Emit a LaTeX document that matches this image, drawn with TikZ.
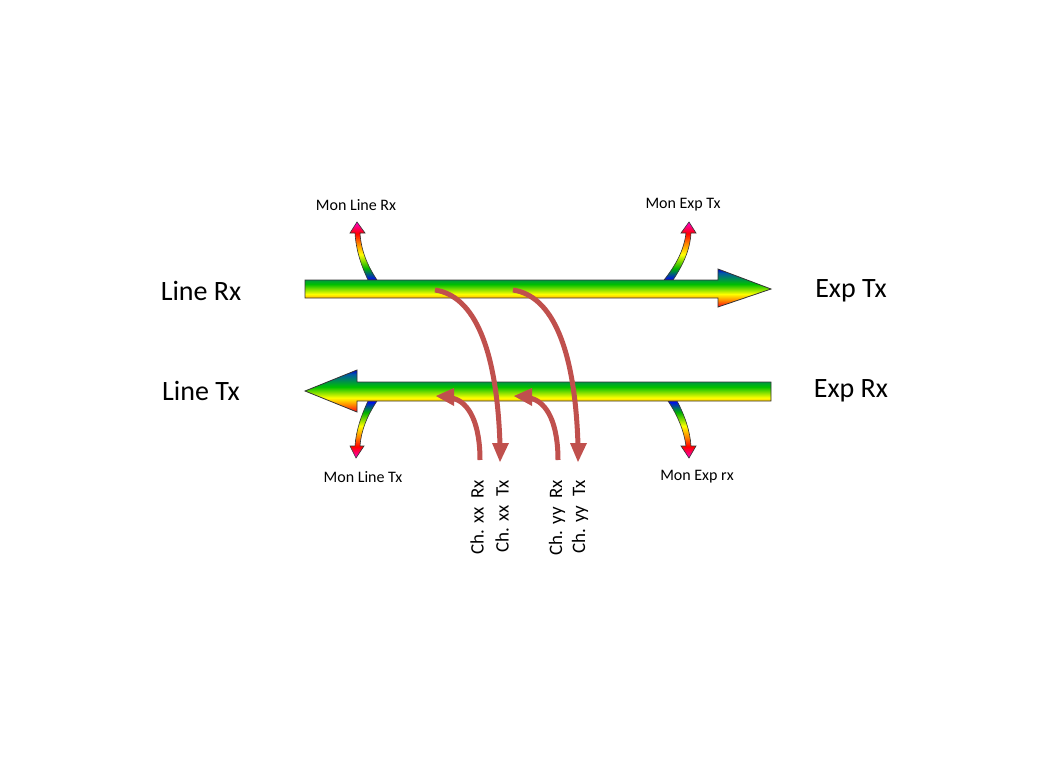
\documentclass[tikz,border=0pt]{standalone}
\usepackage{fontspec}
\setmainfont{Carlito}
\pgfdeclareverticalshading{rainbow}{100bp}{color(0bp)=(red); color(25bp)=(red!90!magenta); color(33bp)=(orange); color(42bp)=(yellow); color(55bp)=(green!75!black); color(70bp)=(teal!70!blue); color(75bp)=(blue!80!black); color(100bp)=(blue)}
\pgfdeclareverticalshading{rainbowsm}{100bp}{color(0bp)=(blue); color(25bp)=(blue); color(35bp)=(green!70!black); color(47bp)=(yellow); color(57bp)=(orange); color(65bp)=(red); color(75bp)=(magenta!80!red); color(100bp)=(magenta)}
\definecolor{redarr}{RGB}{192,80,77}
\tikzset{
 big/.style={shading=rainbow,draw=black!80,line width=0.8pt},
 sm/.style={shading=rainbowsm,draw=black!80,line width=0.6pt},
 redline/.style={draw=redarr,line width=5pt},
 lbl/.style={font=\fontsize{28}{30}\selectfont},
 slbl/.style={font=\fontsize{16}{18}\selectfont},
 clbl/.style={font=\fontsize{19}{21}\selectfont,rotate=90,anchor=east,inner sep=0pt}
}
\begin{document}
\begin{tikzpicture}[x=1pt,y=-1pt]
\useasboundingbox (0,0) rectangle (1053,779);
% small arrows
\path[sm] (368,280) .. controls (361,265) and (356,250) .. (355,233) -- (350,233) -- (357,222) -- (365,233) -- (360,233) .. controls (361,250) and (367,265) .. (377,280) -- cycle;
\path[sm] (664,280) .. controls (676,265) and (684,250) .. (686,233) -- (681,233) -- (689,222) -- (696,233) -- (691,233) .. controls (690,250) and (683,265) .. (673,280) -- cycle;
\path[sm,shading angle=180] (368,401) .. controls (361,416) and (356,431) .. (355,446) -- (350,446) -- (356,458) -- (364,446) -- (360,446) .. controls (361,431) and (367,416) .. (377,401) -- cycle;
\path[sm,shading angle=180] (668,401) .. controls (678,416) and (684,431) .. (686,446) -- (681,446) -- (689,458) -- (696,446) -- (691,446) .. controls (690,431) and (685,416) .. (677,401) -- cycle;
% big arrows
\path[big] (305,280) -- (718,280) -- (718,269) -- (771,289) -- (718,307) -- (718,298) -- (305,298) -- cycle;
\path[big] (771,382) -- (357,382) -- (357,370) -- (305,391) -- (357,412) -- (357,401) -- (771,401) -- cycle;
\coordinate (top) at (538,289);
\coordinate (bot) at (538,391);
% red arrows
\draw[redline] (435,290) .. controls (475,296) and (497,350) .. (500,445);
\path[fill=redarr] (492,443) -- (509,443) -- (500,462) -- cycle;
\draw[redline] (513,290) .. controls (553,296) and (575,350) .. (578,445);
\path[fill=redarr] (570,443) -- (587,443) -- (578,462) -- cycle;
\draw[redline] (480,460) .. controls (480,425) and (470,402) .. (452,398);
\path[fill=redarr] (454,388) -- (454,406) -- (436,396) -- cycle;
\draw[redline] (558,460) .. controls (558,425) and (548,402) .. (530,398);
\path[fill=redarr] (532,388) -- (532,406) -- (514,396) -- cycle;
% labels
\node[lbl] (lrx) at (201,291) {Line Rx};
\node[lbl] (ltx) at (201,391) {Line Tx};
\node[lbl] (etx) at (851,291) {Exp Tx};
\node[lbl] (erx) at (851,391) {Exp Rx};
\node[slbl] (mlr) at (356,205) {Mon Line Rx};
\node[slbl] (met) at (683,205) {Mon Exp Tx};
\node[slbl] (mlt) at (363,477) {Mon Line Tx};
\node[slbl] (mer) at (697,477) {Mon Exp rx};
\node[clbl] (c1) at (477,480) {Ch. xx\ \ Rx};
\node[clbl] (c2) at (502,480) {Ch. xx\ \ Tx};
\node[clbl] (c3) at (557,480) {Ch. yy\ \ Rx};
\node[clbl] (c4) at (580,480) {Ch. yy\ \ Tx};
\end{tikzpicture}
\end{document}
